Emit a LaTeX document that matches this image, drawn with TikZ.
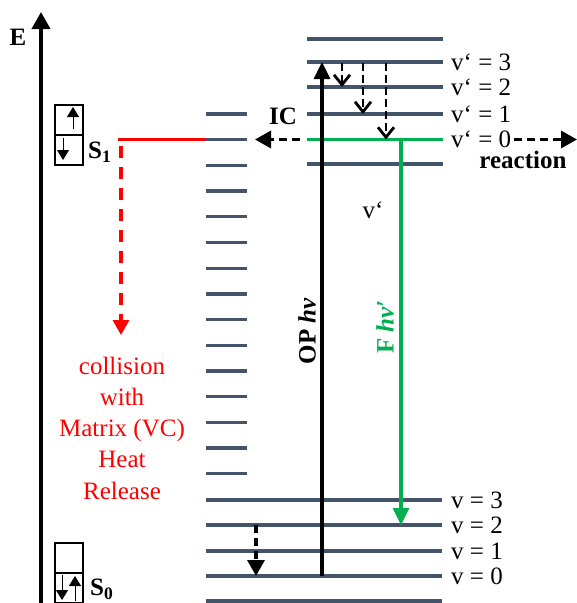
\documentclass[tikz,border=0pt]{standalone}
\usepackage{fontspec}
\setmainfont{Liberation Serif}
\usepackage{tikz}
\usetikzlibrary{arrows.meta,positioning,calc}
\definecolor{levelgrey}{HTML}{44546A}
\definecolor{flgreen}{HTML}{00B050}

\begin{document}
\begin{tikzpicture}[
    x=1pt, y=-1pt,
    every node/.style={font=\fontsize{25}{31.25}\selectfont, inner sep=0pt},
    bold/.style={font=\fontsize{25}{31.25}\selectfont\bfseries},
    level/.style={draw=levelgrey, line width=3.3pt},
    spinbox/.style={draw, line width=1.8pt, minimum width=28pt, minimum height=30pt, outer sep=0pt},
    spin/.style={line width=1pt, -{Triangle[length=10pt,width=12pt]}},
    solidarrow/.style={line width=3.2pt, -{Triangle[length=17pt,width=16pt]}},
    dasharrow/.style={line width=3.2pt, dash pattern=on 8pt off 5pt, -{Triangle[length=16pt,width=17pt]}},
    openarrow/.style={line width=2.8pt, dash pattern=on 8pt off 4pt, -{Straight Barb[length=10pt,width=16pt]}}
]
\useasboundingbox (0,0) rectangle (577,603);

% energy axis
\coordinate (axisbot) at (41,603);
\coordinate (axistop) at (41,12);
\draw[line width=3.8pt, -{Triangle[length=17pt,width=18pt]}] (axisbot) -- (axistop);
\node[font=\fontsize{25}{30}\selectfont\bfseries] (elabel) at (18,37) {E};

% spin boxes
\node[spinbox] (s1top) at (69,120) {};
\node[spinbox, below=0pt of s1top] (s1bot) {};
\draw[spin] ([xshift=4pt,yshift=6pt]s1top.south) -- ([xshift=4pt,yshift=-2pt]s1top.north);
\draw[spin] ([xshift=-6pt,yshift=-3pt]s1bot.north) -- ([xshift=-6pt,yshift=5pt]s1bot.south);
\node[bold, anchor=west] (sone) at (88,152) {S\textsubscript{1}};
\node[spinbox] (s0top) at (69,558) {};
\node[spinbox, below=0pt of s0top] (s0bot) {};
\draw[spin] ([xshift=-7pt,yshift=-2pt]s0bot.north) -- ([xshift=-7pt,yshift=3pt]s0bot.south);
\draw[spin] ([xshift=6pt,yshift=2pt]s0bot.south) -- ([xshift=6pt,yshift=-3pt]s0bot.north);
\node[bold, anchor=west] (szero) at (90,589) {S\textsubscript{0}};

% vibrational levels
\foreach \k in {0,...,14}
  \draw[level] (206,{114+25.7*\k}) -- (247,{114+25.7*\k});
\foreach \y in {39,62,87,114,164}
  \draw[level] (307,\y) -- (443,\y);
\foreach \y in {500,525,551,576,601}
  \draw[level] (206,\y) -- (442,\y);
\draw[draw=flgreen, line width=3.3pt] (307,139.5) -- (443,139.5);

\foreach \n/\y in {3/62,2/87,1/114,0/139.5}
  \node[anchor=west] (vp\n) at (451,\y) {v‘ = \n};
\foreach \n/\y in {3/500,2/525,1/551,0/576}
  \node[anchor=west] (v\n) at (451,\y) {v = \n};
\node (vpmid) at (373,210) {v‘};

% S1 and collision
\coordinate (redfrom) at (118,139.5);
\coordinate (redto) at (206,139.5);
\draw[red, line width=3.3pt] (redfrom) -- (redto);
\coordinate (collfrom) at (121,146);
\coordinate (collto) at (121,335);
\draw[red, line width=3.2pt, dash pattern=on 12pt off 9pt, -{Triangle[length=15pt,width=16pt]}] (collfrom) -- (collto);
\node[align=center, text=red] (colllab) at (122,428) {collision\\with\\Matrix (VC)\\Heat\\Release};

% IC and reaction
\coordinate (icfrom) at (300,139.5);
\coordinate (icto) at (255,139.5);
\draw[dasharrow] (icfrom) -- (icto);
\node[bold] (iclab) at (283,116) {IC};
\coordinate (reactto) at (577,139.5);
\draw[dasharrow] ([xshift=3pt]vp0.east) -- (reactto);
\node[bold] (reactlab) at (523,160) {reaction};

% vibrational relaxation
\foreach \x/\y [count=\i] in {342/87,363/114,386/139.5} {
  \coordinate (vrtop\i) at (\x,63);
  \coordinate (vrbot\i) at (\x,\y);
  \draw[openarrow] (vrtop\i) -- (vrbot\i);
}
\coordinate (vcfrom) at (256,525);
\coordinate (vcto) at (256,576);
\draw[dasharrow] (vcfrom) -- (vcto);

% absorption and fluorescence
\coordinate (opfrom) at (322,576);
\coordinate (opto) at (322,62);
\draw[solidarrow] (opfrom) -- (opto);
\node[bold, rotate=90] (oplab) at (307,331) {OP \textit{hν}};
\coordinate (ffrom) at (401,139.5);
\coordinate (fto) at (401,525);
\draw[solidarrow, flgreen] (ffrom) -- (fto);
\node[bold, rotate=90, text=flgreen] (flab) at (385,327) {F \textit{hν′}};
\end{tikzpicture}
\end{document}
